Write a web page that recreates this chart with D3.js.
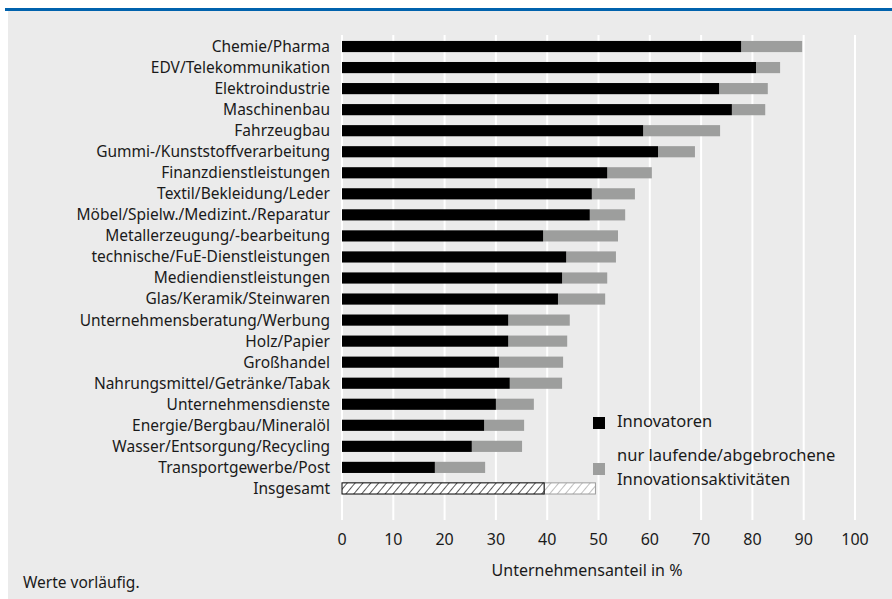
<!DOCTYPE html>
<html><head><meta charset="utf-8">
<script src="https://cdn.jsdelivr.net/npm/d3@7"></script>
<style>
html,body{margin:0;padding:0;background:#fff;}
svg{display:block;}
text{font-family:"Noto Sans",sans-serif;fill:#1a1a1a;}
</style></head>
<body>
<svg id="chart" width="892" height="599"></svg>
<script>
const categories = ["Chemie/Pharma","EDV/Telekommunikation","Elektroindustrie","Maschinenbau","Fahrzeugbau","Gummi-/Kunststoffverarbeitung","Finanzdienstleistungen","Textil/Bekleidung/Leder","Möbel/Spielw./Medizint./Reparatur","Metallerzeugung/-bearbeitung","technische/FuE-Dienstleistungen","Mediendienstleistungen","Glas/Keramik/Steinwaren","Unternehmensberatung/Werbung","Holz/Papier","Großhandel","Nahrungsmittel/Getränke/Tabak","Unternehmensdienste","Energie/Bergbau/Mineralöl","Wasser/Entsorgung/Recycling","Transportgewerbe/Post","Insgesamt"];
// Innovatoren share, and total share (Innovatoren + nur laufende/abgebrochene)
const innovatoren = [77.8,80.7,73.5,76.0,58.7,61.6,51.7,48.7,48.3,39.2,43.7,42.9,42.1,32.4,32.4,30.6,32.7,30.0,27.7,25.3,18.1,39.4];
const gesamt      = [89.7,85.4,83.0,82.5,73.7,68.8,60.4,57.1,55.2,53.8,53.4,51.7,51.3,44.4,43.9,43.1,42.9,37.4,35.5,35.1,27.9,49.4];
const xTicks = [0,10,20,30,40,50,60,70,80,90,100];
const legendLabels = [["Innovatoren"],["nur laufende/abgebrochene","Innovationsaktivitäten"]];
const axisTitle = "Unternehmensanteil in %";
const footnote = "Werte vorläufig.";

const svg = d3.select("#chart");
svg.append("rect").attr("x",8).attr("y",11).attr("width",884).attr("height",588).attr("fill","#ebebeb");
svg.append("rect").attr("x",5).attr("y",8).attr("width",887).attr("height",3).attr("fill","#0062ad");

const defs = svg.append("defs");
function hatch(id,color){
  const p = defs.append("pattern").attr("id",id).attr("patternUnits","userSpaceOnUse")
    .attr("width",6).attr("height",6).attr("patternTransform","rotate(40)");
  p.append("rect").attr("width",6).attr("height",6).attr("fill","#fff");
  p.append("line").attr("x1",0).attr("y1",0).attr("x2",0).attr("y2",6).attr("stroke",color).attr("stroke-width",1.3);
}
hatch("hBlack","#000");
hatch("hGrey","#9c9c9c");

const x = d3.scaleLinear().domain([0,100]).range([342,855]);
const y = d3.scaleBand().domain(categories.concat(["_pad"])).range([36,520]).paddingInner(0.47).paddingOuter(0.235);

svg.append("g").selectAll("line").data(xTicks).join("line")
  .attr("x1",d=>x(d)).attr("x2",d=>x(d)).attr("y1",35).attr("y2",520)
  .attr("stroke","#fff").attr("stroke-width",2);

const n = categories.length;
const bars = svg.append("g");
categories.forEach((c,i)=>{
  const isTotal = (i===n-1);
  const yy = y(c), h = y.bandwidth();
  bars.append("rect").attr("x",x(innovatoren[i])).attr("y",yy)
    .attr("width",x(gesamt[i])-x(innovatoren[i])).attr("height",h)
    .attr("fill",isTotal?"url(#hGrey)":"#9d9e9d")
    .attr("stroke",isTotal?"#9c9c9c":"none").attr("stroke-width",1);
  bars.append("rect").attr("x",x(0)).attr("y",yy)
    .attr("width",x(innovatoren[i])-x(0)).attr("height",h)
    .attr("fill",isTotal?"url(#hBlack)":"#000")
    .attr("stroke",isTotal?"#000":"none").attr("stroke-width",1);
});

svg.append("g").selectAll("text").data(categories).join("text")
  .attr("x",330).attr("y",d=>y(d)+y.bandwidth()/2).attr("dy","0.35em")
  .attr("text-anchor","end").style("font-size","15.5px").text(d=>d);

svg.append("g").selectAll("text").data(xTicks).join("text")
  .attr("x",d=>x(d)).attr("y",539).attr("dy","0.35em")
  .attr("text-anchor","middle").style("font-size","16px").text(d=>d);

svg.append("text").attr("x",587).attr("y",570).attr("dy","0.35em")
  .attr("text-anchor","middle").style("font-size","16px").text(axisTitle);

svg.append("text").attr("x",23).attr("y",583).attr("dy","0.35em")
  .style("font-size","15.5px").text(footnote);

const lg = svg.append("g");
const legendColors = ["#000","#9d9e9d"];
const legendY = [423,469];
legendLabels.forEach((lines,i)=>{
  lg.append("rect").attr("x",593).attr("y",legendY[i]-6).attr("width",12).attr("height",12).attr("fill",legendColors[i]);
  lines.forEach((t,j)=>{
    lg.append("text").attr("x",617).attr("y",legendY[i]-(lines.length-1)*12+j*24-2).attr("dy","0.35em")
      .style("font-size","16.5px").text(t);
  });
});
</script>
</body></html>
